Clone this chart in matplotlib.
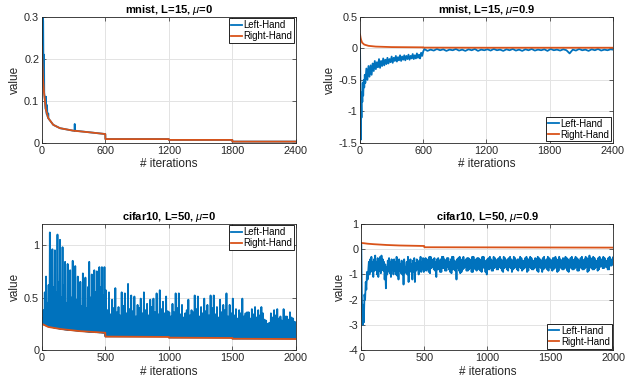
import numpy as np
import matplotlib as mpl
mpl.use('Agg')
import matplotlib.pyplot as plt

BLUE = '#0072BD'
ORANGE = '#D95319'

# ---- mnist, L=15, mu=0 ----
mn0_rh_x = [0, 5, 10, 19, 38, 60, 107, 170, 296, 454, 599, 600, 1199, 1200, 1799, 1800, 2400]
mn0_rh_y = [0.23, 0.19, 0.155, 0.122, 0.079, 0.059, 0.043, 0.035, 0.029, 0.025, 0.021,
            0.009, 0.009, 0.007, 0.007, 0.003, 0.003]
mn0_lh_x = [0, 6, 9, 12, 15, 18, 20, 22, 25, 36, 38, 40, 46, 48, 52, 58, 60, 62, 107, 170,
            296, 308, 310, 312, 454, 599, 600, 1199, 1200, 1799, 1800, 2400]
mn0_lh_y = [0.23, 0.18, 0.30, 0.29, 0.15, 0.13, 0.21, 0.12, 0.11, 0.08, 0.11, 0.077, 0.068,
            0.09, 0.064, 0.06, 0.07, 0.058, 0.043, 0.035, 0.029, 0.029, 0.045, 0.029, 0.025,
            0.021, 0.009, 0.009, 0.007, 0.007, 0.003, 0.003]

# ---- mnist, L=15, mu=0.9 ----
mn9_rh_x = [0, 5, 10, 20, 40, 80, 150, 300, 599, 600, 1200, 1800, 2400]
mn9_rh_y = [0.22, 0.17, 0.135, 0.09, 0.06, 0.04, 0.028, 0.02, 0.016, 0.012, 0.01, 0.01, 0.01]
mn9_head_x = [0, 4, 7, 10, 14, 18, 22, 26, 30, 35, 40, 45, 50]
mn9_head_y = [0.0, -0.6, -1.45, -0.85, -1.1, -0.7, -0.85, -0.55, -0.75, -0.5, -0.62, -0.42, -0.55]
# every 10 iterations from 60 to 600
mn9_body = [-0.32, -0.5, -0.28, -0.45, -0.27, -0.42, -0.24, -0.36, -0.2, -0.33,
            -0.22, -0.3, -0.17, -0.31, -0.2, -0.28, -0.16, -0.27, -0.18, -0.25,
            -0.15, -0.24, -0.17, -0.22, -0.13, -0.23, -0.15, -0.2, -0.12, -0.21,
            -0.14, -0.19, -0.11, -0.2, -0.13, -0.18, -0.11, -0.19, -0.12, -0.17,
            -0.1, -0.18, -0.12, -0.16, -0.09, -0.17, -0.11, -0.16, -0.08, -0.15,
            -0.1, -0.16, -0.07, -0.12, -0.05]
# every 30 iterations from 610 to 2380
mn9_tail = [-0.01, -0.04, -0.02, -0.035, -0.01, -0.03, -0.015, -0.04, -0.02, -0.03,
            -0.01, -0.035, -0.02, -0.04, -0.015, -0.03, -0.01, -0.04, -0.02, -0.03,
            -0.015, -0.035, -0.01, -0.03, -0.02, -0.04, -0.015, -0.03, -0.01, -0.035,
            -0.02, -0.04, -0.015, -0.03, -0.01, -0.035, -0.02, -0.03, -0.015, -0.04,
            -0.01, -0.03, -0.02, -0.035, -0.015, -0.03, -0.08, -0.02, -0.035, -0.01,
            -0.03, -0.02, -0.04, -0.015, -0.03, -0.01, -0.035, -0.02, -0.03, -0.015]

# ---- cifar10, L=50, mu=0 ----
c0_rh_x = [0, 50, 150, 300, 499, 500, 999, 1000, 1499, 1500, 2000]
c0_rh_y = [0.25, 0.22, 0.2, 0.18, 0.165, 0.128, 0.125, 0.118, 0.115, 0.108, 0.105]
# one low / peak / low / mid block every 10 iterations from 0 to 500
c0_lows_a = [0.25, 0.245, 0.24, 0.235, 0.23, 0.225, 0.222, 0.22, 0.218, 0.215,
             0.212, 0.21, 0.208, 0.206, 0.204, 0.202, 0.2, 0.198, 0.196, 0.195,
             0.194, 0.193, 0.192, 0.19, 0.189, 0.188, 0.187, 0.186, 0.185, 0.184,
             0.182, 0.181, 0.18, 0.179, 0.178, 0.177, 0.176, 0.175, 0.174, 0.173,
             0.172, 0.171, 0.17, 0.17, 0.169, 0.168, 0.168, 0.167, 0.166, 0.166]
c0_peaks_a = [0.30, 0.38, 0.55, 0.70, 0.45, 0.62, 1.12, 0.70, 0.96, 0.60,
              0.95, 0.55, 1.10, 0.65, 1.05, 0.50, 0.98, 0.62, 0.84, 0.45,
              0.82, 0.58, 0.76, 0.50, 0.85, 0.62, 0.80, 0.48, 0.70, 0.55,
              0.65, 0.42, 0.73, 0.58, 0.69, 0.40, 0.60, 0.84, 0.50, 0.72,
              0.45, 0.76, 0.55, 0.75, 0.48, 0.79, 0.60, 0.79, 0.52, 0.79]
c0_mids_a = [0.27, 0.33, 0.40, 0.35, 0.42, 0.38, 0.45, 0.36, 0.41, 0.39,
             0.44, 0.37, 0.40, 0.35, 0.43, 0.38, 0.41, 0.34, 0.39, 0.36,
             0.40, 0.33, 0.38, 0.35, 0.42, 0.36, 0.37, 0.32, 0.39, 0.34,
             0.36, 0.31, 0.38, 0.35, 0.40, 0.33, 0.36, 0.34, 0.37, 0.32,
             0.35, 0.38, 0.33, 0.36, 0.34, 0.39, 0.35, 0.37, 0.33, 0.36]
# low / peak / low / mid / low / mid2 / low / mid3 block every 25 iterations from 500 to 2000
c0_lows_b = [0.13] * 20 + [0.12] * 20 + [0.11] * 20
c0_peaks_b = [0.57, 0.55, 0.48, 0.59, 0.41, 0.55, 0.54, 0.63, 0.52, 0.51,
              0.43, 0.49, 0.55, 0.44, 0.48, 0.49, 0.54, 0.57, 0.46, 0.51,
              0.36, 0.44, 0.54, 0.54, 0.43, 0.35, 0.48, 0.38, 0.52, 0.51,
              0.41, 0.49, 0.43, 0.52, 0.52, 0.41, 0.48, 0.43, 0.54, 0.43,
              0.49, 0.39, 0.38, 0.49, 0.35, 0.36, 0.39, 0.41, 0.38, 0.41,
              0.29, 0.25, 0.35, 0.38, 0.39, 0.32, 0.39, 0.32, 0.36, 0.30]
c0_mids_b = [0.30, 0.27, 0.33, 0.25, 0.29, 0.31, 0.26, 0.34, 0.28, 0.24,
             0.30, 0.27, 0.32, 0.25, 0.29, 0.26, 0.31, 0.28, 0.24, 0.30,
             0.26, 0.29, 0.24, 0.31, 0.27, 0.23, 0.28, 0.25, 0.30, 0.26,
             0.24, 0.29, 0.27, 0.23, 0.30, 0.25, 0.28, 0.24, 0.27, 0.29,
             0.25, 0.22, 0.27, 0.24, 0.28, 0.23, 0.26, 0.29, 0.24, 0.22,
             0.26, 0.23, 0.27, 0.25, 0.22, 0.28, 0.24, 0.26, 0.23, 0.25]
c0_mid2_b = [0.38, 0.34, 0.40, 0.36, 0.33, 0.42, 0.35, 0.39, 0.37, 0.32,
             0.40, 0.35, 0.38, 0.33, 0.41, 0.36, 0.34, 0.39, 0.35, 0.37,
             0.32, 0.36, 0.40, 0.34, 0.31, 0.38, 0.33, 0.36, 0.39, 0.32,
             0.35, 0.37, 0.33, 0.40, 0.34, 0.31, 0.36, 0.38, 0.32, 0.35,
             0.33, 0.30, 0.35, 0.32, 0.36, 0.30, 0.34, 0.31, 0.33, 0.35,
             0.28, 0.26, 0.31, 0.33, 0.30, 0.28, 0.32, 0.29, 0.31, 0.27]
c0_mid3_b = [0.24, 0.28, 0.22, 0.26, 0.25, 0.21, 0.27, 0.23, 0.25, 0.28,
             0.22, 0.26, 0.24, 0.27, 0.21, 0.25, 0.23, 0.26, 0.28, 0.22,
             0.24, 0.21, 0.26, 0.23, 0.25, 0.27, 0.22, 0.24, 0.21, 0.26,
             0.23, 0.25, 0.22, 0.24, 0.27, 0.21, 0.23, 0.25, 0.22, 0.24,
             0.21, 0.24, 0.22, 0.25, 0.20, 0.23, 0.21, 0.24, 0.22, 0.20,
             0.22, 0.20, 0.23, 0.21, 0.24, 0.20, 0.22, 0.21, 0.23, 0.20]

# ---- cifar10, L=50, mu=0.9 ----
c9_rh_x = [0, 20, 50, 100, 200, 300, 499, 500, 1000, 1500, 2000]
c9_rh_y = [0.25, 0.24, 0.22, 0.2, 0.17, 0.15, 0.13, 0.08, 0.075, 0.07, 0.065]
c9_head_x = [0, 4, 8, 12, 16, 20, 25, 30, 35, 40, 45, 50]
c9_head_y = [0.2, -1.8, -2.6, -3.0, -2.2, -2.9, -1.8, -2.0, -1.3, -1.6, -0.9, -1.2]
# upper / lower swings, 60..500 every 10 iterations
c9_up_a = [-0.5, -0.4, -0.3, -0.5, -0.4, -0.25, -0.5, -0.35, -0.45, -0.3,
           -0.25, -0.4, -0.5, -0.6, -0.7, -0.45, -0.35, -0.5, -0.4, -0.45,
           -0.4, -0.5, -0.3, -0.55, -0.4, -0.6, -0.45, -0.5, -0.4, -0.7,
           -0.5, -0.3, -0.45, -0.4, -0.6, -0.45, -0.35, -0.55, -0.4, -0.6,
           -0.45, -0.3, -0.5, -0.35, -0.4]
c9_dn_a = [-1.0, -0.9, -0.8, -1.1, -0.85, -0.8, -1.0, -1.1, -0.85, -0.95,
           -0.8, -0.85, -1.2, -1.55, -1.0, -0.85, -0.95, -1.1, -0.8, -1.0,
           -0.85, -1.0, -1.05, -1.2, -0.85, -0.95, -1.0, -1.4, -0.95, -0.85,
           -1.0, -1.3, -0.9, -0.85, -1.2, -0.9, -1.3, -0.85, -0.8, -1.0,
           -0.85, -0.9, -0.8, -0.9, -0.8]
# two upper / lower swings per 20 iterations, 510..2000
c9_up_b = [-0.35, -0.45, -0.3, -0.4, -0.5, -0.35, -0.4, -0.3, -0.45, -0.35,
           -0.4, -0.3, -0.5, -0.35, -0.45, -0.3, -0.4, -0.35, -0.45, -0.3,
           -0.4, -0.35, -0.45, -0.3, -0.5, -0.35, -0.4, -0.3, -0.45, -0.35,
           -0.4, -0.3, -0.45, -0.35, -0.4, -0.3, -0.45, -0.4, -0.35, -0.45,
           -0.3, -0.4, -0.35, -0.45, -0.4, -0.35, -0.45, -0.3, -0.4, -0.35,
           -0.45, -0.35, -0.4, -0.3, -0.45, -0.4, -0.35, -0.45, -0.3, -0.4,
           -0.35, -0.45, -0.3, -0.4, -0.35, -0.25, -0.4, -0.35, -0.45, -0.3,
           -0.4, -0.35, -0.45, -0.3, -0.4]
c9_dn_b = [-0.85, -0.9, -0.75, -0.8, -1.1, -0.8, -0.9, -0.75, -0.85, -0.8,
           -0.95, -0.8, -1.2, -0.85, -0.9, -0.75, -0.85, -0.8, -0.9, -0.75,
           -0.85, -0.8, -0.9, -0.75, -1.0, -0.8, -0.85, -0.75, -0.8, -0.7,
           -0.85, -0.75, -0.8, -0.7, -0.9, -0.75, -0.8, -0.7, -0.85, -0.75,
           -0.9, -0.7, -0.8, -0.75, -0.85, -0.7, -0.9, -0.75, -0.8, -0.7,
           -0.85, -0.75, -0.9, -0.7, -0.8, -0.75, -0.85, -0.7, -0.8, -0.75,
           -0.85, -0.7, -0.8, -0.75, -0.9, -0.7, -0.8, -0.75, -0.85, -0.7,
           -0.75, -0.7, -0.8, -0.65, -0.6]
c9_up_c = [-0.4, -0.3, -0.45, -0.35, -0.4, -0.45, -0.3, -0.4, -0.35, -0.5,
           -0.3, -0.45, -0.4, -0.3, -0.4, -0.45, -0.35, -0.4, -0.3, -0.45,
           -0.35, -0.4, -0.3, -0.45, -0.4, -0.3, -0.45, -0.35, -0.4, -0.3,
           -0.45, -0.35, -0.4, -0.3, -0.45, -0.35, -0.4, -0.3, -0.45, -0.35,
           -0.4, -0.3, -0.45, -0.35, -0.3, -0.4, -0.35, -0.45, -0.3, -0.4,
           -0.35, -0.3, -0.45, -0.4, -0.35, -0.3, -0.4, -0.35, -0.45, -0.3,
           -0.4, -0.35, -0.45, -0.3, -0.4, -0.35, -0.3, -0.45, -0.35, -0.4,
           -0.3, -0.45, -0.35, -0.4, -0.3]
c9_dn_c = [-0.8, -0.95, -0.7, -0.85, -0.8, -0.9, -0.75, -0.85, -0.7, -0.9,
           -0.8, -0.85, -0.75, -0.95, -0.8, -0.7, -0.85, -0.75, -0.9, -0.8,
           -0.75, -0.85, -0.7, -0.9, -0.8, -0.75, -0.85, -0.7, -0.8, -0.75,
           -0.9, -0.7, -0.85, -0.75, -0.8, -0.7, -0.85, -0.75, -0.8, -0.7,
           -0.85, -0.75, -0.8, -0.7, -0.9, -0.75, -0.8, -0.7, -0.85, -0.75,
           -0.8, -0.7, -0.85, -0.75, -0.8, -0.7, -0.9, -0.75, -0.8, -0.7,
           -0.85, -0.75, -0.8, -0.7, -0.85, -0.75, -0.8, -0.7, -0.8, -0.65,
           -0.75, -0.7, -0.8, -0.65, -0.7]

titles = ['mnist, L=15, $\\mu$=0', 'mnist, L=15, $\\mu$=0.9',
          'cifar10, L=50, $\\mu$=0', 'cifar10, L=50, $\\mu$=0.9']

plt.rcParams['font.family'] = ['Liberation Sans', 'DejaVu Sans']
plt.rcParams['mathtext.fontset'] = 'custom'
plt.rcParams['mathtext.it'] = 'Liberation Sans:italic'
plt.rcParams['mathtext.rm'] = 'Liberation Sans'
plt.rcParams['axes.edgecolor'] = '#262626'
plt.rcParams['axes.linewidth'] = 0.6
plt.rcParams['xtick.direction'] = 'in'
plt.rcParams['ytick.direction'] = 'in'
plt.rcParams['xtick.top'] = True
plt.rcParams['ytick.right'] = True
plt.rcParams['xtick.major.size'] = 3
plt.rcParams['ytick.major.size'] = 3
plt.rcParams['xtick.major.width'] = 0.5
plt.rcParams['ytick.major.width'] = 0.5
plt.rcParams['xtick.color'] = '#262626'
plt.rcParams['ytick.color'] = '#262626'
plt.rcParams['xtick.labelsize'] = 7.8
plt.rcParams['ytick.labelsize'] = 7.8

fig = plt.figure(figsize=(6.35, 3.83), dpi=100)
ax1 = fig.add_axes([0.066, 0.627, 0.400, 0.329])
ax2 = fig.add_axes([0.567, 0.627, 0.398, 0.329])
ax3 = fig.add_axes([0.066, 0.086, 0.400, 0.329])
ax4 = fig.add_axes([0.569, 0.086, 0.397, 0.329])

lw = 1.3

# panel 1
ax1.plot(mn0_lh_x, mn0_lh_y, color=BLUE, lw=lw, label='Left-Hand')
ax1.plot(mn0_rh_x, mn0_rh_y, color=ORANGE, lw=lw, label='Right-Hand')

# panel 2
mn9_x = mn9_head_x + list(60 + 10 * np.arange(len(mn9_body))) + list(610 + 30 * np.arange(len(mn9_tail))) + [2400]
mn9_y = mn9_head_y + mn9_body + mn9_tail + [-0.02]
ax2.plot(mn9_x, mn9_y, color=BLUE, lw=lw, label='Left-Hand')
ax2.plot(mn9_rh_x, mn9_rh_y, color=ORANGE, lw=lw, label='Right-Hand')

# panel 3
c0_x, c0_y = [], []
for i in range(len(c0_peaks_a)):
    x0 = 10 * i
    c0_x += [x0, x0 + 2.5, x0 + 5, x0 + 7.5]
    c0_y += [c0_lows_a[i], c0_peaks_a[i], c0_lows_a[i], c0_mids_a[i]]
for i in range(len(c0_peaks_b)):
    x0 = 500 + 25 * i
    c0_x += list(x0 + 3.125 * np.arange(8))
    lo = c0_lows_b[i]
    c0_y += [lo, c0_peaks_b[i], lo, c0_mids_b[i], lo, c0_mid2_b[i], lo, c0_mid3_b[i]]
c0_x.append(2000)
c0_y.append(c0_lows_b[-1])
ax3.plot(c0_x, c0_y, color=BLUE, lw=lw, label='Left-Hand')
ax3.plot(c0_rh_x, c0_rh_y, color=ORANGE, lw=lw, label='Right-Hand')

# panel 4
c9_x, c9_y = list(c9_head_x), list(c9_head_y)
for i in range(len(c9_up_a)):
    c9_x += [60 + 10 * i, 65 + 10 * i]
    c9_y += [c9_up_a[i], c9_dn_a[i]]
for i in range(len(c9_up_b)):
    x0 = 510 + 20 * i
    c9_x += [x0, x0 + 5, x0 + 10, x0 + 15]
    c9_y += [c9_up_b[i], c9_dn_b[i], c9_up_c[i], c9_dn_c[i]]
ax4.plot(c9_x, c9_y, color=BLUE, lw=lw, label='Left-Hand')
ax4.plot(c9_rh_x, c9_rh_y, color=ORANGE, lw=lw, label='Right-Hand')

ax1.set_xlim(0, 2400); ax1.set_ylim(0, 0.3)
ax1.set_xticks([0, 600, 1200, 1800, 2400]); ax1.set_yticks([0, 0.1, 0.2, 0.3])
ax1.set_yticklabels(['0', '0.1', '0.2', '0.3'])
ax2.set_xlim(0, 2400); ax2.set_ylim(-1.5, 0.5)
ax2.set_xticks([0, 600, 1200, 1800, 2400]); ax2.set_yticks([-1.5, -1, -0.5, 0, 0.5])
ax2.set_yticklabels(['-1.5', '-1', '-0.5', '0', '0.5'])
ax3.set_xlim(0, 2000); ax3.set_ylim(0, 1.2)
ax3.set_xticks([0, 500, 1000, 1500, 2000]); ax3.set_yticks([0, 0.5, 1])
ax3.set_yticklabels(['0', '0.5', '1'])
ax4.set_xlim(0, 2000); ax4.set_ylim(-4, 1)
ax4.set_xticks([0, 500, 1000, 1500, 2000]); ax4.set_yticks([-4, -3, -2, -1, 0, 1])
ax4.set_yticklabels(['-4', '-3', '-2', '-1', '0', '1'])

locs = ['upper right', 'lower right', 'upper right', 'lower right']
for ax, t, loc in zip([ax1, ax2, ax3, ax4], titles, locs):
    ax.set_title(t, fontsize=8, fontweight='bold', pad=2)
    ax.set_xlabel('# iterations', fontsize=8.5, color='#262626', labelpad=2)
    ax.set_ylabel('value', fontsize=8.5, color='#262626', labelpad=2)
    ax.grid(True, color='#e3e3e3', lw=0.7)
    ax.set_axisbelow(True)
    ax.tick_params(pad=2)
    leg = ax.legend(loc=loc, fontsize=6.9, handlelength=1.1, handletextpad=0.2,
                    borderpad=0.2, labelspacing=0.1, borderaxespad=0.15,
                    fancybox=False, framealpha=1, edgecolor='black')
    leg.get_frame().set_linewidth(0.6)

fig.savefig('out.png', dpi=100)
